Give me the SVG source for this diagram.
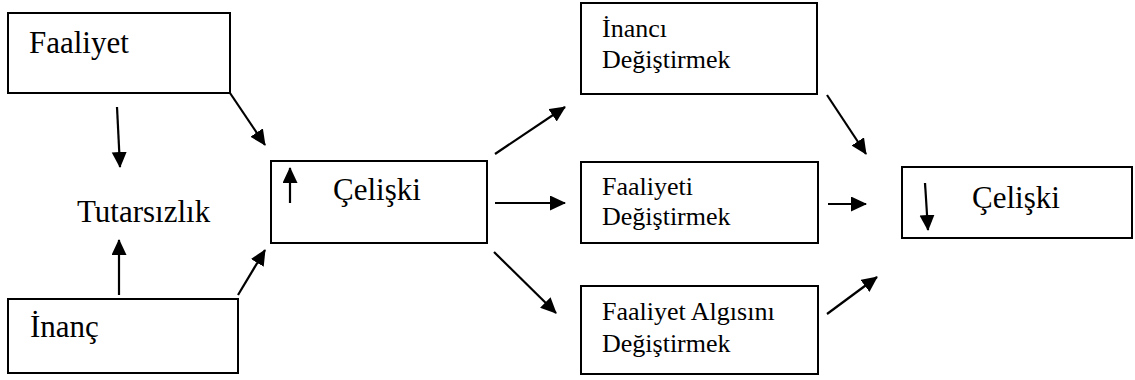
<svg xmlns="http://www.w3.org/2000/svg" width="1135" height="380" viewBox="0 0 1135 380">
<style>
.box{fill:#fff;stroke:#000;stroke-width:2}
.big{font-family:"Liberation Serif","Times New Roman",serif;font-size:31px;fill:#000}
.sm{font-family:"Liberation Serif","Times New Roman",serif;font-size:26px;fill:#000}
.arr{stroke:#000;stroke-width:2.2;fill:none;marker-end:url(#ah)}
</style>
<defs>
<marker id="ah" markerUnits="userSpaceOnUse" markerWidth="18" markerHeight="16" refX="15" refY="7.5" orient="auto">
<path d="M0,0 L16,7.5 L0,15 z" fill="#000"/>
</marker>
</defs>
<rect width="1135" height="380" fill="#fff"/>
<g id="faaliyet">
<rect class="box" x="8" y="13" width="222" height="80"/>
<text class="big" x="29" y="53">Faaliyet</text>
</g>
<g id="tutarsizlik">
<text class="big" x="77" y="222">Tutarsızlık</text>
</g>
<g id="inanc">
<rect class="box" x="8" y="299" width="230" height="74"/>
<text class="big" x="30" y="337">İnanç</text>
</g>
<g id="celiski1">
<rect class="box" x="271" y="161" width="216" height="82"/>
<text class="big" x="333" y="200">Çelişki</text>
<line class="arr" x1="290" y1="203" x2="290" y2="168"/>
</g>
<g id="inanci-degistirmek">
<rect class="box" x="581" y="3" width="236" height="91"/>
<text class="sm" x="602" y="37">İnancı</text>
<text class="sm" x="602" y="68">Değiştirmek</text>
</g>
<g id="faaliyeti-degistirmek">
<rect class="box" x="581" y="162" width="237" height="81"/>
<text class="sm" x="602" y="195">Faaliyeti</text>
<text class="sm" x="602" y="225">Değiştirmek</text>
</g>
<g id="algisini-degistirmek">
<rect class="box" x="581" y="286" width="237" height="88"/>
<text class="sm" x="602" y="320">Faaliyet Algısını</text>
<text class="sm" x="602" y="352">Değiştirmek</text>
</g>
<g id="celiski2">
<rect class="box" x="902" y="167" width="230" height="71"/>
<text class="big" x="972" y="208">Çelişki</text>
<line class="arr" x1="925" y1="183" x2="928" y2="230"/>
</g>
<g id="connectors">
<line class="arr" x1="117" y1="107" x2="120" y2="167"/>
<line class="arr" x1="230" y1="93" x2="265" y2="145"/>
<line class="arr" x1="119" y1="295" x2="119" y2="240"/>
<line class="arr" x1="238" y1="295" x2="265" y2="250"/>
<line class="arr" x1="495" y1="154" x2="565" y2="107"/>
<line class="arr" x1="495" y1="203" x2="565" y2="203"/>
<line class="arr" x1="494" y1="252" x2="556" y2="313"/>
<line class="arr" x1="827" y1="95" x2="866" y2="154"/>
<line class="arr" x1="828" y1="204" x2="866" y2="204"/>
<line class="arr" x1="827" y1="314" x2="877" y2="277"/>
</g>
</svg>
